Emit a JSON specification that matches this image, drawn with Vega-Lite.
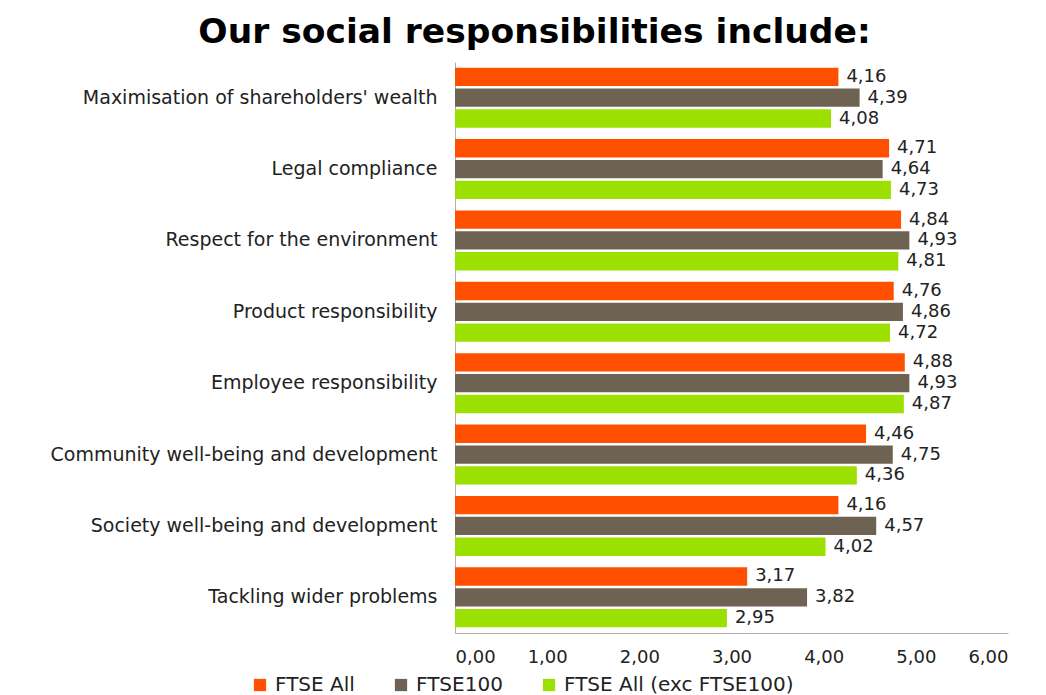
{
  "$schema": "https://vega.github.io/schema/vega-lite/v6.json",
  "autosize": {"type": "none"},
  "width": 553,
  "height": 571,
  "padding": {"left": 455, "top": 62, "right": 38, "bottom": 62},
  "background": "white",
  "config": {
    "locale": {"number": {"decimal": ",", "thousands": ".", "grouping": [3], "currency": ["", "€"]}},
    "view": {"stroke": null},
    "font": "DejaVu Sans"
  },
  "title": {
    "text": "Our social responsibilities include:",
    "fontSize": 34.5,
    "fontWeight": "bold",
    "font": "DejaVu Sans",
    "color": "#000000",
    "anchor": "middle",
    "dx": -197,
    "offset": 12
  },
  "data": {
    "values": [
      {"category": "Maximisation of shareholders' wealth", "series": "FTSE All", "value": 4.16},
      {"category": "Maximisation of shareholders' wealth", "series": "FTSE100", "value": 4.39},
      {"category": "Maximisation of shareholders' wealth", "series": "FTSE All (exc FTSE100)", "value": 4.08},
      {"category": "Legal compliance", "series": "FTSE All", "value": 4.71},
      {"category": "Legal compliance", "series": "FTSE100", "value": 4.64},
      {"category": "Legal compliance", "series": "FTSE All (exc FTSE100)", "value": 4.73},
      {"category": "Respect for the environment", "series": "FTSE All", "value": 4.84},
      {"category": "Respect for the environment", "series": "FTSE100", "value": 4.93},
      {"category": "Respect for the environment", "series": "FTSE All (exc FTSE100)", "value": 4.81},
      {"category": "Product responsibility", "series": "FTSE All", "value": 4.76},
      {"category": "Product responsibility", "series": "FTSE100", "value": 4.86},
      {"category": "Product responsibility", "series": "FTSE All (exc FTSE100)", "value": 4.72},
      {"category": "Employee responsibility", "series": "FTSE All", "value": 4.88},
      {"category": "Employee responsibility", "series": "FTSE100", "value": 4.93},
      {"category": "Employee responsibility", "series": "FTSE All (exc FTSE100)", "value": 4.87},
      {"category": "Community well-being and development", "series": "FTSE All", "value": 4.46},
      {"category": "Community well-being and development", "series": "FTSE100", "value": 4.75},
      {"category": "Community well-being and development", "series": "FTSE All (exc FTSE100)", "value": 4.36},
      {"category": "Society well-being and development", "series": "FTSE All", "value": 4.16},
      {"category": "Society well-being and development", "series": "FTSE100", "value": 4.57},
      {"category": "Society well-being and development", "series": "FTSE All (exc FTSE100)", "value": 4.02},
      {"category": "Tackling wider problems", "series": "FTSE All", "value": 3.17},
      {"category": "Tackling wider problems", "series": "FTSE100", "value": 3.82},
      {"category": "Tackling wider problems", "series": "FTSE All (exc FTSE100)", "value": 2.95}
    ]
  },
  "encoding": {
    "y": {
      "field": "category",
      "type": "nominal",
      "sort": null,
      "scale": {"paddingInner": 0.16, "paddingOuter": 0.08},
      "axis": {
        "title": null,
        "ticks": false,
        "domainColor": "#b0b0b0",
        "labelFontSize": 19,
        "labelColor": "#222222",
        "labelPadding": 18,
        "labelLimit": 450
      }
    },
    "yOffset": {
      "field": "series",
      "type": "nominal",
      "sort": ["FTSE All", "FTSE100", "FTSE All (exc FTSE100)"],
      "scale": {"paddingInner": 0.12}
    },
    "x": {
      "field": "value",
      "type": "quantitative",
      "scale": {"domain": [0, 6], "nice": false},
      "axis": {
        "title": null,
        "format": ".2f",
        "values": [0, 1, 2, 3, 4, 5, 6],
        "labelOverlap": false,
        "ticks": false,
        "grid": false,
        "domainColor": "#b0b0b0",
        "labelFontSize": 18,
        "labelColor": "#222222",
        "labelPadding": 15
      }
    }
  },
  "layer": [
    {
      "mark": {"type": "bar"},
      "encoding": {
        "color": {
          "field": "series",
          "type": "nominal",
          "sort": ["FTSE All", "FTSE100", "FTSE All (exc FTSE100)"],
          "scale": {
            "domain": ["FTSE All", "FTSE100", "FTSE All (exc FTSE100)"],
            "range": ["#FF5000", "#6E6352", "#9BE000"]
          },
          "legend": {
            "title": null,
            "orient": "none",
            "direction": "horizontal",
            "legendX": -205,
            "legendY": 613,
            "symbolType": "square",
            "symbolSize": 150,
            "labelFontSize": 20,
            "labelColor": "#222222",
            "labelLimit": 400,
            "columnPadding": 36,
            "labelOffset": 5
          }
        }
      }
    },
    {
      "mark": {"type": "text", "align": "left", "dx": 8, "fontSize": 18, "color": "#222222"},
      "encoding": {
        "text": {"field": "value", "type": "quantitative", "format": ".2f"}
      }
    }
  ]
}
